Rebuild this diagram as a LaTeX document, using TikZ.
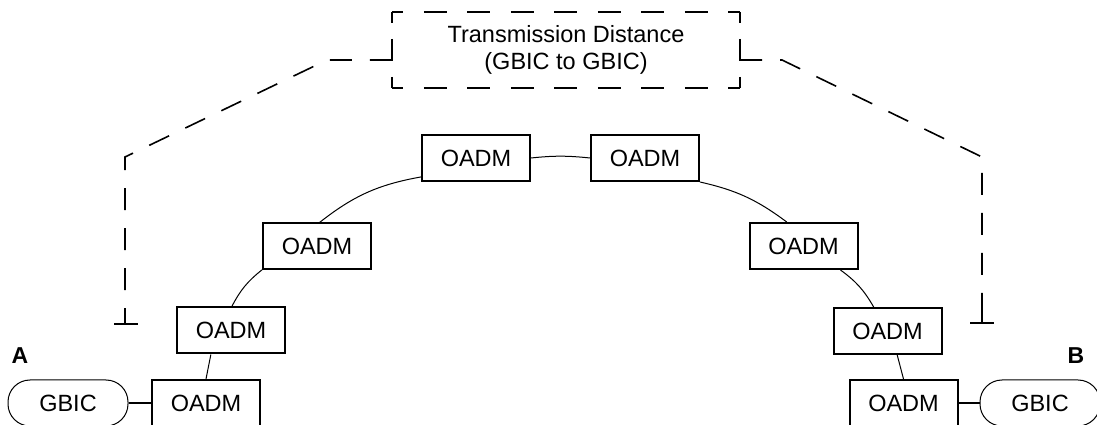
\documentclass[tikz,border=0pt]{standalone}
\usepackage{fontspec}
\setmainfont{Liberation Sans}
\usetikzlibrary{calc}
\begin{document}
\begin{tikzpicture}[x=1pt,y=1pt,
  txt/.style={font=\fontsize{23.5}{27}\selectfont},
  oadm/.style={txt,draw,line width=2pt,minimum width=108pt,minimum height=46pt,inner sep=0pt},
  gbic/.style={txt,draw,line width=1pt,rounded corners=22pt,minimum width=120pt,minimum height=46pt,inner sep=0pt},
  lbl/.style={font=\fontsize{23}{27}\selectfont\bfseries},
  ring/.style={line width=1pt},
  link/.style={line width=2pt},
  distbox/.style={txt,minimum width=348pt,minimum height=76pt,align=center,inner sep=0pt},
  hdash/.style={line width=2pt,dash pattern=on 23pt off 20.5pt,dash phase=11.5pt},
  vdash/.style={line width=2pt,dash pattern=on 22pt off 16pt,dash phase=11pt},
  leader/.style={line width=1.6pt,dash pattern=on 22pt off 18pt},
  tick/.style={line width=1.6pt}]
\useasboundingbox (0,0) rectangle (1097,425);

\node[oadm] (t1) at (476,267) {OADM};
\node[oadm] (t2) at (645,267) {OADM};
\node[oadm] (l2) at (317,178.5) {OADM};
\node[oadm] (r2) at (803.5,179) {OADM};
\node[oadm] (l3) at (231,94.5) {OADM};
\node[oadm] (r3) at (887.5,94) {OADM};
\node[oadm] (l4) at (206,22) {OADM};
\node[oadm] (r4) at (903.5,22) {OADM};
\node[gbic] (gA) at (68,22) {GBIC};
\node[gbic] (gB) at (1040,22) {GBIC};
\node[lbl] (A) at (20,69) {A};
\node[lbl] (B) at (1076,69) {B};
\node[distbox] (dist) at (566,375) {Transmission Distance\\(GBIC to GBIC)};
\draw[hdash] (dist.north west) -- (dist.north east);
\draw[hdash] (dist.south west) -- (dist.south east);
\draw[vdash] (dist.north west) -- (dist.south west);
\draw[vdash] (dist.north east) -- (dist.south east);

% ring connections
\draw[ring] (l4.north) -- (l3.230);
\draw[ring] (l3.88) to[bend left=12] (l2.203);
\draw[ring] (l2.84) to[bend left=14] (t1.199);
\draw[ring] (t1.east) to[bend left=6] (t2.west);
\draw[ring] (t2.south east) to[bend left=12] (r2.125);
\draw[ring] (r2.327) to[bend left=12] (r3.120);
\draw[ring] (r3.292) -- (r4.north);

\draw[link] (gA.east) -- (l4.west);
\draw[link] (r4.east) -- (gB.west);

% leaders
\coordinate (lh) at (327,365);
\coordinate (ld) at (125,268);
\coordinate (lb) at (125,101);
\coordinate (lt1) at (114,101);
\coordinate (lt2) at (138,101);
\coordinate (rh) at (782,365);
\coordinate (rd) at (982,268);
\coordinate (rb) at (982,102);
\coordinate (rt1) at (970,102);
\coordinate (rt2) at (994,102);
\draw[leader] (dist.west |- lh) -- (lh) -- (ld) -- (lb);
\draw[tick] (lt1) -- (lt2) (lb) -- ++(0,12);
\draw[leader] (dist.east |- rh) -- (rh) -- (rd) -- (rb);
\draw[tick] (rt1) -- (rt2) (rb) -- ++(0,12);
\end{tikzpicture}
\end{document}
